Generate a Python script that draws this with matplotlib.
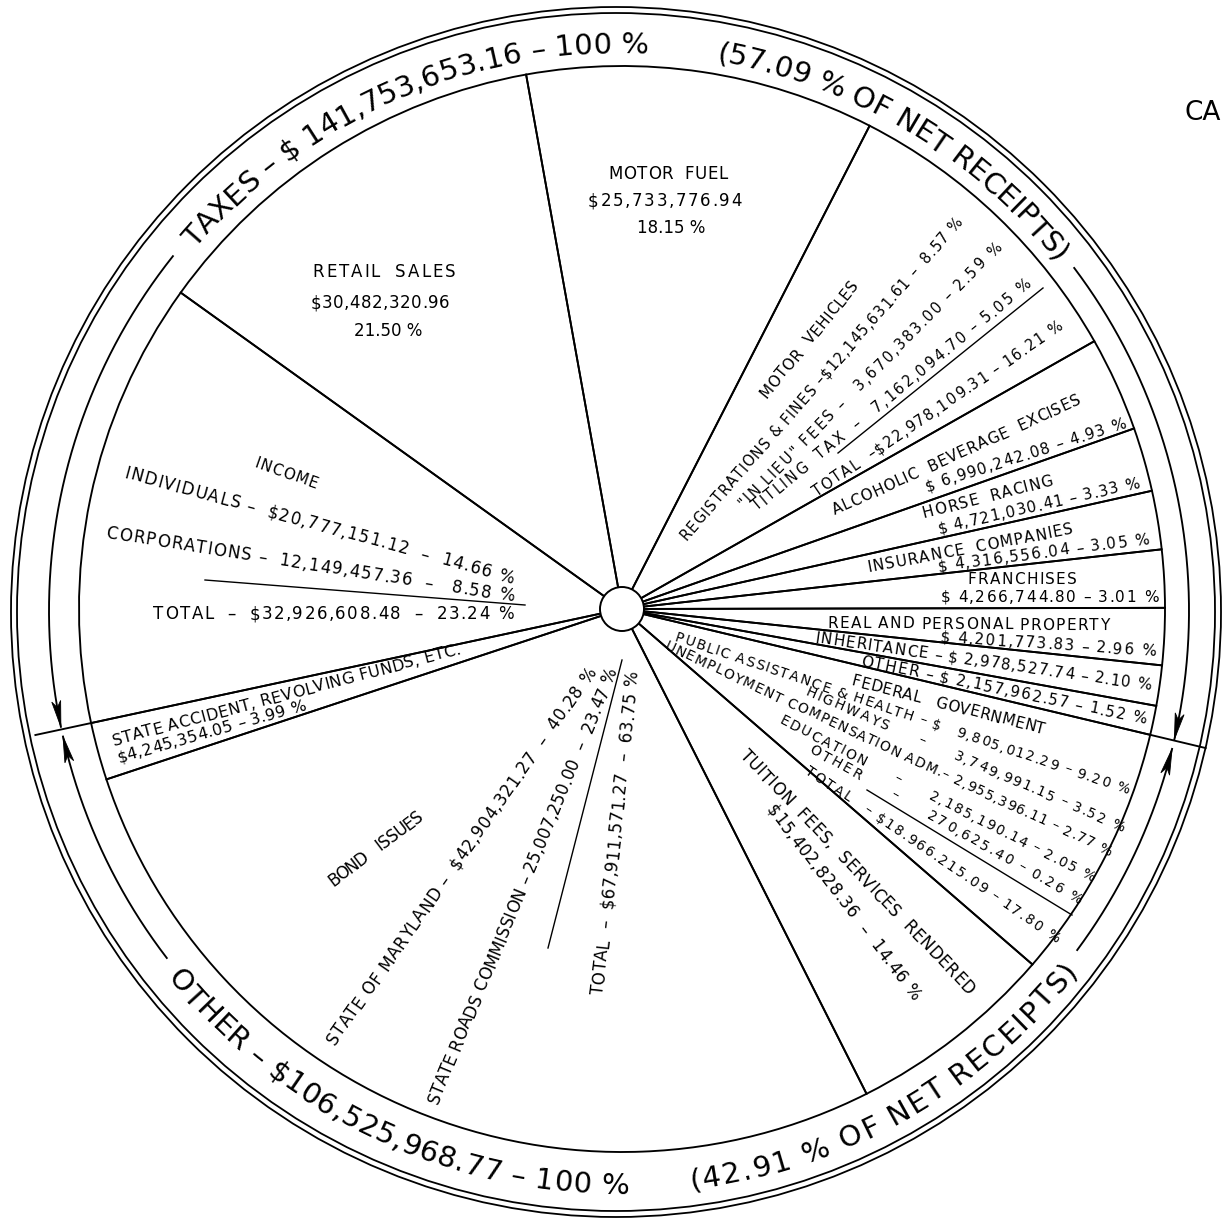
import numpy as np
import matplotlib
matplotlib.use("Agg")
import matplotlib.pyplot as plt
from matplotlib.patches import Circle, Polygon
from matplotlib.textpath import TextToPath
from matplotlib.font_manager import FontProperties

# ---------------- data ----------------
# tax receipts, listed counter-clockwise from the right-hand divider
tax_labels = ["Other", "Inheritance", "Real and Personal Property", "Franchises",
              "Insurance Companies", "Horse Racing", "Alcoholic Beverage Excises",
              "Motor Vehicles", "Motor Fuel", "Retail Sales", "Income"]
tax_pct = [1.52, 2.10, 2.96, 3.01, 3.05, 3.33, 4.93, 16.21, 18.15, 21.50, 23.24]
# other receipts, continuing counter-clockwise
other_labels = ["State Accident, Revolving Funds, Etc.", "Bond Issues",
                "Tuition Fees, Services Rendered", "Federal Government"]
other_pct = [3.99, 63.75, 14.46, 17.80]
taxes_share = 57.09
other_share = 42.91
taxes_ring = ["TAXES – $ 141,753,653.16 – 100 %", "(57.09 % OF NET RECEIPTS)"]
other_ring = ["OTHER – $106,525,968.77 – 100 %", "(42.91 % OF NET RECEIPTS)"]

W, H, DPI = 1228, 1220, 100
FONT = "DejaVu Sans"
plt.rcParams["font.family"] = [FONT]
fig = plt.figure(figsize=(W / DPI, H / DPI), dpi=DPI)
ax = fig.add_axes([0, 0, 1, 1])

PCX, PCY, PR = 622, 609, 543        # pie
OCX, OCY = 616, 612                 # outer double circle
RCX, RCY, RR = 619, 611, 570        # ring (text / arrows)
LW = 1.35

values = [p * taxes_share / 100 for p in tax_pct] + [p * other_share / 100 for p in other_pct]
start_screen = -13.4                 # right divider, degrees (screen, ccw)
ax.pie(values, center=(PCX, PCY), radius=PR, startangle=-start_screen,
       counterclock=False, normalize=True, frame=False,
       wedgeprops=dict(facecolor="none", edgecolor="black", linewidth=LW))
ax.set_xlim(0, W)
ax.set_ylim(H, 0)
ax.set_aspect("equal")
ax.axis("off")

div_right = start_screen
div_left = start_screen + 360 * taxes_share / 100

def P(cx, cy, r, a):
    t = np.deg2rad(a)
    return cx + r * np.cos(t), cy - r * np.sin(t)

# dividers through the ring
for a in (div_right, div_left):
    x0, y0 = P(PCX, PCY, PR, a)
    x1, y1 = P(PCX, PCY, 600, a)
    ax.plot([x0, x1], [y0, y1], color="k", lw=LW)

# hub and outer circles
ax.add_patch(Circle((PCX, PCY), 22, facecolor="white", edgecolor="black", lw=1.4, zorder=5))
for r in (599, 605):
    ax.add_patch(Circle((OCX, OCY), r, facecolor="none", edgecolor="black", lw=1.3))

# ring arcs with arrowheads
def arc(a0, a1, arrow=True):
    t = np.linspace(a0, a1, 300)
    xs, ys = P(RCX, RCY, RR, t)
    ax.plot(xs, ys, color="k", lw=LW)
    if not arrow:
        return
    L = 26.0
    d = np.rad2deg(L / RR) * np.sign(a1 - a0)
    tip = np.array(P(RCX, RCY, RR, a1))
    base = np.array(P(RCX, RCY, RR, a1 - d))
    v = tip - base
    n = np.array([-v[1], v[0]]) / np.hypot(*v)
    poly = [tip, base + n * 4.5, base + 0.25 * v, base - n * 4.5]
    ax.add_patch(Polygon(poly, closed=True, facecolor="k", edgecolor="k", lw=0.6))

arc(141.5, div_left - 0.4)
arc(217.5, div_left + 0.6)
arc(37.0, div_right + 0.4)
arc(323.5, 360 + div_right - 0.6)

# character metrics
ttp = TextToPath()
_wcache = {}
def char_w(ch, size):
    key = (ch, size)
    if key not in _wcache:
        fp = FontProperties(family=FONT, size=size)
        w, h, d = ttp.get_text_width_height_descent(ch, fp, ismath=False)
        _wcache[key] = w * DPI / 72.0
    return _wcache[key]

def arc_text(s, a0, a1, r, size, top=True):
    ws = np.array([char_w(c, size) for c in s])
    span = np.deg2rad(abs(a1 - a0)) * r
    scale = span / ws.sum()
    pos = (np.cumsum(ws) - ws / 2) * scale
    for c, p in zip(s, pos):
        if c == " ":
            continue
        da = np.rad2deg(p / r)
        th = a0 - da if top else a0 + da
        x, y = P(RCX, RCY, r, th)
        rot = th - 90 if top else th + 90
        ax.text(x, y, c, rotation=rot, ha="center", va="baseline",
                rotation_mode="anchor", fontsize=size, color="k")

def line_text(s, x0, y0, x1, y1, size=12):
    """Letter the string along the line (x0,y0)-(x1,y1) (mid-height line)."""
    ws = np.array([char_w(c, size) for c in s])
    L = np.hypot(x1 - x0, y1 - y0)
    scale = L / ws.sum()
    ux, uy = (x1 - x0) / L, (y1 - y0) / L
    rho = -np.degrees(np.arctan2(y1 - y0, x1 - x0))
    capH = 0.73 * size * DPI / 72.0
    dx, dy = np.sin(np.radians(rho)), np.cos(np.radians(rho))
    pos = (np.cumsum(ws) - ws / 2) * scale
    for c, p in zip(s, pos):
        if c == " ":
            continue
        cx = x0 + ux * p + dx * capH / 2
        cy = y0 + uy * p + dy * capH / 2
        ax.text(cx, cy, c, rotation=rho, ha="center", va="baseline",
                rotation_mode="anchor", fontsize=size, color="k")

RING_FS = 21
arc_text(taxes_ring[0], 139.5, 87.0, 558, RING_FS, top=True)
arc_text(taxes_ring[1], 80.0, 38.5, 558, RING_FS, top=True)
arc_text(other_ring[0], 219.0, 271.0, 583, RING_FS, top=False)
arc_text(other_ring[1], 277.0, 322.0, 583, RING_FS, top=False)

def U(x0, y0, x1, y1):
    ax.plot([x0, x1], [y0, y1], color="k", lw=1.0)

# ---------------- inside labels ----------------
# motor fuel / retail sales
line_text("MOTOR  FUEL", 608, 173, 728, 173, 12)
line_text("$25,733,776.94", 587, 200, 743, 200, 12)
ax.text(671, 228, "18.15 %", ha="center", va="center", fontsize=12)
line_text("RETAIL  SALES", 311, 271, 457, 271, 12)
line_text("$30,482,320.96", 310, 302, 450, 302, 12)
ax.text(388, 331, "21.50 %", ha="center", va="center", fontsize=12)

# income
line_text("INCOME", 255, 462, 318, 484, 11)
line_text("INDIVIDUALS –  $20,777,151.12  –  14.66 %", 125, 472, 515, 578, 12)
line_text("CORPORATIONS –  12,149,457.36  –   8.58 %", 105, 532, 515, 596, 12)
U(205, 580, 525, 605)
line_text("TOTAL  –  $32,926,608.48  –  23.24 %", 152, 613, 515, 613, 12)

# state accident
line_text("STATE ACCIDENT, REVOLVING FUNDS, ETC.", 112, 740, 460, 648, 11.5)
line_text("$4,245,354.05 – 3.99 %", 117, 757, 305, 704, 11.5)

# bond issues
line_text("BOND   ISSUES", 330, 882, 420, 814, 12)
line_text("STATE OF MARYLAND –  $42,904,321.27  –  40.28 %", 330, 1043, 592, 668, 12)
line_text("STATE ROADS COMMISSION – 25,007,250.00  –  23.47 %", 432, 1103, 612, 668, 12)
U(622, 660, 548, 948)
line_text("TOTAL  –  $67,911,571.27  –  63.75 %", 597, 995, 632, 670, 12)

# tuition
line_text("TUITION  FEES,  SERVICES  RENDERED", 743, 752, 972, 992, 12)
line_text("$15,402,828.36  –  14.46 %", 770, 806, 918, 998, 12)

# federal government
line_text("FEDERAL   GOVERNMENT", 852, 680, 1045, 729, 11)
line_text("PUBLIC ASSISTANCE & HEALTH – $   9,805,012.29 – 9.20 %", 675, 636, 1130, 790, 10)
line_text("HIGHWAYS      –      3,749,991.15 – 3.52 %", 806, 690, 1125, 828, 10)
line_text("UNEMPLOYMENT COMPENSATION ADM.– 2,955,396.11 – 2.77 %", 665, 644, 1112, 852, 10)
line_text("EDUCATION      –      2,185,190.14 – 2.05 %", 780, 718, 1095, 878, 10)
line_text("OTHER      –      270,625.40 – 0.26 %", 810, 747, 1083, 901, 10)
U(867, 790, 1072, 915)
line_text("TOTAL   – $18.966.215.09 – 17.80 %", 806, 768, 1060, 940, 10)

# small tax slices
line_text("OTHER – $ 2,157,962.57 – 1.52 %", 860, 660, 1148, 719, 11)
line_text("INHERITANCE – $ 2,978,527.74 – 2.10 %", 815, 637, 1152, 685, 11)
line_text("REAL AND PERSONAL PROPERTY", 827, 622, 1110, 625, 11)
line_text("$ 4,201,773.83 – 2.96 %", 940, 636, 1157, 651, 11)
line_text("FRANCHISES", 967, 578, 1077, 579, 11)
line_text("$ 4,266,744.80 – 3.01 %", 940, 596, 1160, 596, 11)
line_text("INSURANCE  COMPANIES", 867, 567, 1073, 528, 11)
line_text("$ 4,316,556.04 – 3.05 %", 937, 566, 1150, 538, 11)
line_text("HORSE  RACING", 922, 513, 1053, 479, 11)
line_text("$ 4,721,030.41 – 3.33 %", 937, 528, 1140, 482, 11)
line_text("ALCOHOLIC  BEVERAGE  EXCISES", 832, 510, 1080, 398, 11)
line_text("$ 6,990,242.08 – 4.93 %", 925, 486, 1126, 422, 11)

# motor vehicles
line_text("MOTOR  VEHICLES", 762, 396, 855, 282, 11)
line_text("REGISTRATIONS & FINES –$12,145,631.61 –  8.57 %", 682, 538, 960, 218, 10.5)
line_text("\"IN LIEU\" FEES –   3,670,383.00 – 2.59 %", 740, 505, 1000, 243, 10.5)
line_text("TITLING  TAX  –   7,162,094.70 – 5.05 %", 753, 508, 1030, 280, 10.5)
U(838, 453, 1043, 288)
line_text("TOTAL  –$22,978,109.31 – 16.21 %", 813, 493, 1062, 323, 10.5)

# cut-off heading at the right edge
ax.text(1185, 120, "CA", fontsize=19, ha="left", va="baseline", color="k")

fig.savefig("out.png", dpi=DPI)
